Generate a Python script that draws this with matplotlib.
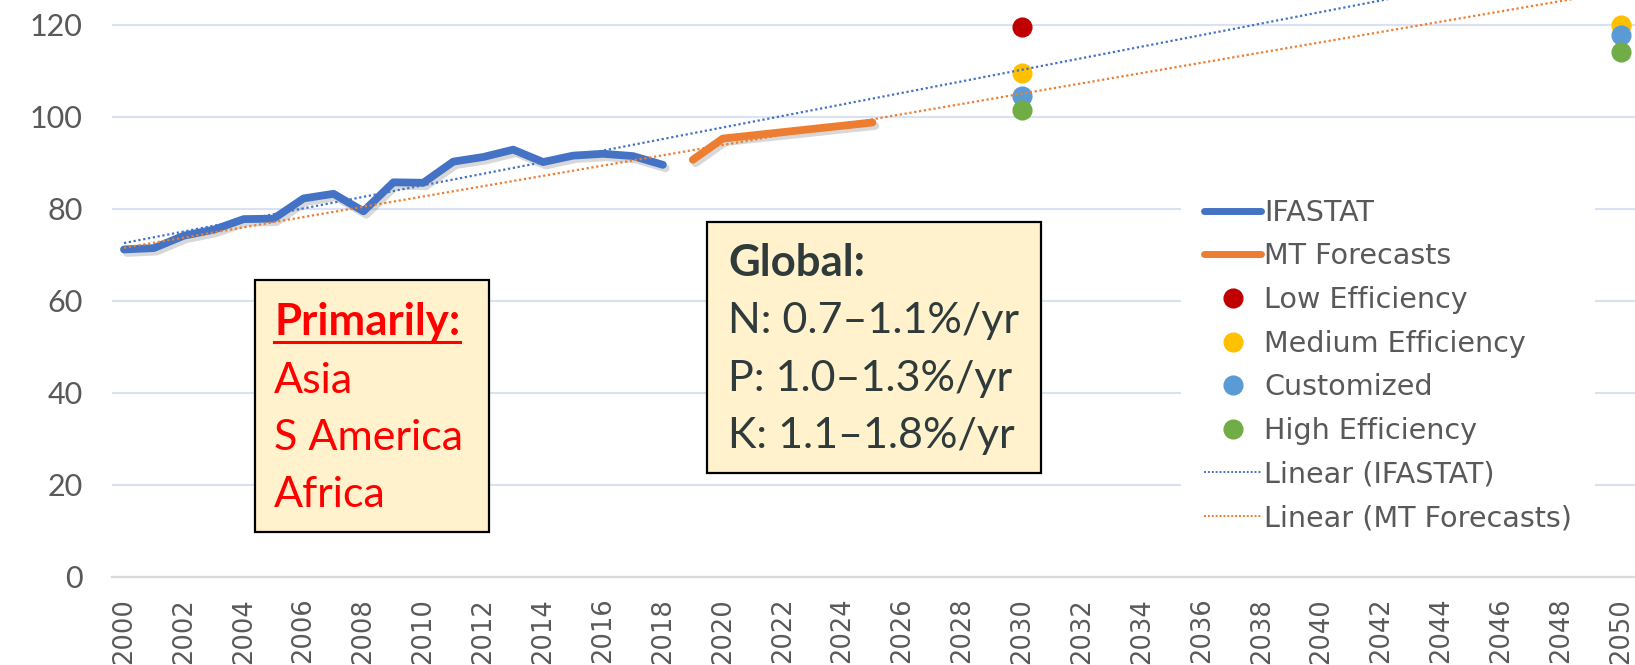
import numpy as np
import matplotlib
matplotlib.use("Agg")
import matplotlib.pyplot as plt
from matplotlib import patheffects as pe
from matplotlib.lines import Line2D
from matplotlib.patches import Rectangle

# ---- data -------------------------------------------------------------
hist_years = list(range(2000, 2019))
ifastat = [71.2, 71.5, 74.2, 75.5, 77.8, 77.9, 82.3, 83.3, 79.5, 85.8,
           85.7, 90.3, 91.3, 92.9, 90.2, 91.6, 92.0, 91.5, 89.6]

forecast_years = list(range(2019, 2026))
mt_forecasts = [90.7, 95.3, 96.0, 96.7, 97.4, 98.1, 98.8]

low_years = [2030]
low_efficiency = [119.6]
scenario_years = [2030, 2050]
medium_efficiency = [109.5, 119.9]
customized = [104.6, 117.8]
high_efficiency = [101.5, 114.1]

trend_span = [2000, 2050]
year_ticks = list(range(2000, 2051, 2))
value_ticks = [0, 20, 40, 60, 80, 100, 120]

region_title = "Primarily:"
regions = ["Asia", "S America", "Africa"]
global_title = "Global:"
global_rates = ["N: 0.7\u20131.1%/yr", "P: 1.0\u20131.3%/yr", "K: 1.1\u20131.8%/yr"]

# ---- styling ----------------------------------------------------------
BLUE = "#4472C4"
ORANGE = "#ED7D31"
RED = "#C00000"
GOLD = "#FFC000"
SKY = "#5B9BD5"
GREEN = "#70AD47"
GRID = "#D9E1F2"
LABEL = "#595959"

W, H = 1635, 665
fig = plt.figure(figsize=(W / 100, H / 100), dpi=100)
ax = fig.add_axes([112 / W, (H - 577) / H, (W - 112) / W, 577 / H])
ax.set_xlim(1999.6, 2050.47)
ax.set_ylim(0, 125.43)

shadow = [pe.SimpleLineShadow(offset=(2.0, -2.5), shadow_color="#808080", alpha=0.3),
          pe.Normal()]

ax.plot(hist_years, ifastat, color=BLUE, lw=5.6, solid_capstyle="round",
        solid_joinstyle="round", path_effects=shadow, zorder=3)
ax.plot(forecast_years, mt_forecasts, color=ORANGE, lw=5.6, solid_capstyle="round",
        solid_joinstyle="round", path_effects=shadow, zorder=3)

ms = 13.5
ax.plot(low_years, low_efficiency, "o", ms=ms, color=RED, ls="none", zorder=4)
ax.plot(scenario_years, medium_efficiency, "o", ms=ms, color=GOLD, ls="none", zorder=4)
ax.plot(scenario_years, customized, "o", ms=ms, color=SKY, ls="none", zorder=4)
ax.plot(scenario_years, high_efficiency, "o", ms=ms, color=GREEN, ls="none", zorder=4)

# least-squares linear trends, extended across the whole axis
dot = (0, (1, 1.2))
span = np.array(trend_span, dtype=float)
for yrs, vals, col in [(hist_years, ifastat, BLUE), (forecast_years, mt_forecasts, ORANGE)]:
    k, b = np.polyfit(yrs, vals, 1)
    ax.plot(span, k * span + b, color=col, lw=1.6, ls=dot, zorder=5)

# axes cosmetics
ax.set_xticks(year_ticks)
ax.set_xticklabels([str(y) for y in year_ticks], rotation=90, fontsize=18.5,
                   color=LABEL, family="DejaVu Sans")
ax.set_yticks(value_ticks)
ax.set_yticklabels([str(v) for v in value_ticks], fontsize=22, color=LABEL,
                   family="Lato")
ax.tick_params(axis="x", length=0, pad=15)
ax.tick_params(axis="y", length=0, pad=21)
ax.grid(axis="y", color=GRID, lw=1.5)
ax.grid(axis="x", visible=False)
ax.set_axisbelow(True)
for side in ("top", "right", "left"):
    ax.spines[side].set_visible(False)
ax.spines["bottom"].set_color("#D9D9D9")
ax.spines["bottom"].set_linewidth(1.6)

# legend
handles = [
    Line2D([], [], color=BLUE, lw=5, solid_capstyle="round", label="IFASTAT"),
    Line2D([], [], color=ORANGE, lw=5, solid_capstyle="round", label="MT Forecasts"),
    Line2D([], [], ls="none", marker="o", ms=ms, color=RED, label="Low Efficiency"),
    Line2D([], [], ls="none", marker="o", ms=ms, color=GOLD, label="Medium Efficiency"),
    Line2D([], [], ls="none", marker="o", ms=ms, color=SKY, label="Customized"),
    Line2D([], [], ls="none", marker="o", ms=ms, color=GREEN, label="High Efficiency"),
    Line2D([], [], color=BLUE, lw=1.4, ls=(0, (1, 1)), label="Linear (IFASTAT)"),
    Line2D([], [], color=ORANGE, lw=1.4, ls=(0, (1, 1)), label="Linear (MT Forecasts)"),
]
fig.legend(handles=handles, loc="upper left",
           bbox_to_anchor=(1181 / W, 1 - 176 / H), frameon=True,
           facecolor="white", edgecolor="none", framealpha=1, fancybox=False,
           fontsize=20.6, labelcolor=LABEL, handlelength=2.0, handletextpad=0.1,
           labelspacing=0.545, borderpad=0.8, borderaxespad=0)


def px(x, y):
    return x / W, 1 - y / H


# annotation boxes
def box(x0, y0, x1, y1):
    fx, fy = px(x0, y1)
    fig.add_artist(Rectangle((fx, fy), (x1 - x0) / W, (y1 - y0) / H,
                             transform=fig.transFigure, facecolor="#FFF2CC",
                             edgecolor="black", lw=1.6, zorder=6))


box(255, 280, 489, 532)
box(707, 222, 1041, 473)

title_txt = fig.text(*px(274, 335), region_title, family="Lato", weight="bold",
                     fontsize=31.5, color="#FF0000", va="baseline", zorder=7)
for i, name in enumerate(regions):
    fig.text(*px(274, 393 + 57 * i), name, family="Lato", fontsize=31,
             color="#FF0000", va="baseline", zorder=7)

fig.text(*px(728, 276), global_title, family="Lato", weight="bold",
         fontsize=31.5, color="#2F3B3B", va="baseline", zorder=7)
for i, line in enumerate(global_rates):
    fig.text(*px(728, 333 + 57.5 * i), line, family="Lato", fontsize=31,
             color="#2F3B3B", va="baseline", zorder=7)

# underline for the region heading
renderer = fig.canvas.get_renderer()
bb = title_txt.get_window_extent(renderer)
uy = 1 - 342 / H
fig.add_artist(Line2D([bb.x0 / W, bb.x1 / W], [uy, uy], transform=fig.transFigure,
                      color="#FF0000", lw=2.2, zorder=7))

fig.savefig("out.png", dpi=100)
